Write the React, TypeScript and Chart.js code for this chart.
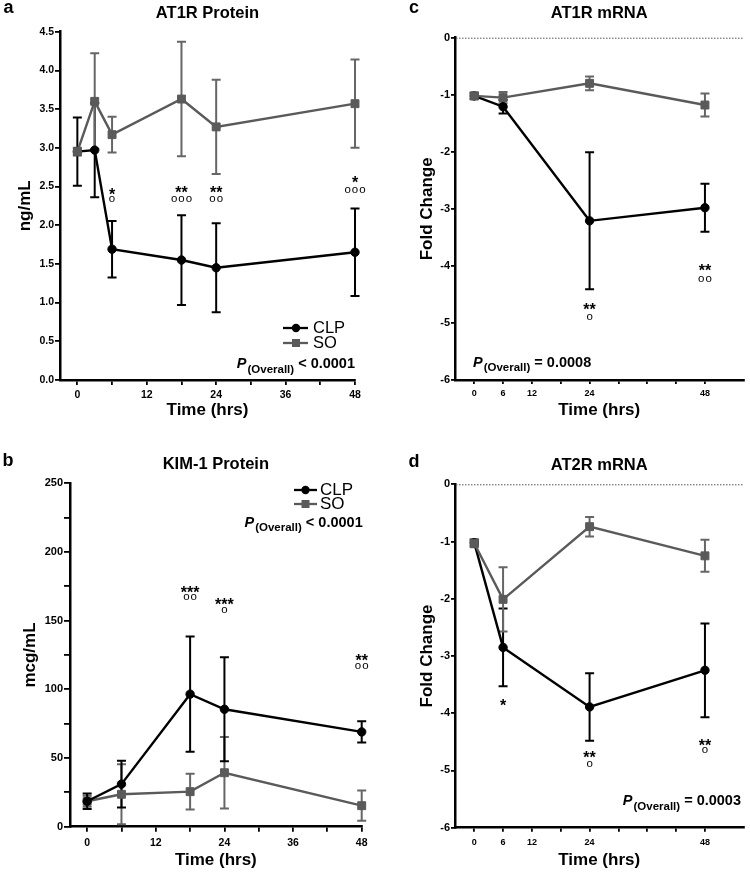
import React, { useEffect, useRef } from "react";
import { Chart, registerables } from "chart.js";

Chart.register(...registerables);

const FONT = '"Liberation Sans", Arial, Helvetica, sans-serif';
const CLP_COLOR = "#000000";
const SO_COLOR = "#5a5a5a";
const SO_ERR_COLOR = "#666666";

// ---------- Panel a: AT1R Protein (ng/mL) ----------
const hoursA = [0, 3, 6, 18, 24, 48];
const clpA = [2.95, 2.97, 1.69, 1.55, 1.45, 1.65];
const clpErrA = [0.44, 0.61, 0.365, 0.58, 0.575, 0.565];
const soA = [2.95, 3.6, 3.17, 3.63, 3.27, 3.57];
const soErrA = [0.05, 0.62, 0.23, 0.74, 0.61, 0.57];

// ---------- Panel b: KIM-1 Protein (mcg/mL) ----------
const hoursB = [0, 6, 18, 24, 48];
const clpB = [18.5, 31, 96.5, 85.5, 69];
const clpErrB = [5.7, 17, 42, 37.8, 7.7];
const soB = [18.5, 23.6, 25.5, 39.3, 15.3];
const soErrB = [4, 21.8, 13, 26, 11];

// ---------- Panel c: AT1R mRNA (fold change) ----------
const hoursC = [0, 6, 24, 48];
const clpC = [-1.02, -1.21, -3.21, -2.98];
const clpErrC = [0.05, 0.12, 1.2, 0.42];
const soC = [-1.02, -1.05, -0.8, -1.18];
const soErrC = [0.06, 0.1, 0.12, 0.2];

// ---------- Panel d: AT2R mRNA (fold change) ----------
const hoursD = [0, 6, 24, 48];
const clpD = [-1.02, -2.85, -3.89, -3.25];
const clpErrD = [0.05, 0.68, 0.59, 0.82];
const soD = [-1.03, -2.01, -0.74, -1.25];
const soErrD = [0.07, 0.56, 0.17, 0.28];

// ---------- Ticks ----------
const timeTicks = [0, 6, 12, 18, 24, 30, 36, 42, 48];
const timeLabelsAB = [0, 12, 24, 36, 48];
const timeLabelsCD = [0, 6, 12, 24, 48];
const yTicksA = [0, 0.5, 1, 1.5, 2, 2.5, 3, 3.5, 4, 4.5];
const yTicksB = [0, 25, 50, 75, 100, 125, 150, 175, 200, 225, 250];
const yLabelsB = [0, 50, 100, 150, 200, 250];
const yTicksCD = [-6, -5, -4, -3, -2, -1, 0];

// ---------- Significance annotations ----------
const annXA = [6, 18, 24, 48];
const starsA = ["*", "**", "**", "*"];
const starYA = [2.44, 2.46, 2.46, 2.59];
const circlesA = ["o", "ooo", "oo", "ooo"];
const circleYA = [2.34, 2.34, 2.34, 2.45];

const annXB = [18, 24, 48];
const starsB = ["***", "***", "**"];
const starYB = [172.5, 163.8, 123.3];
const circlesB = ["oo", "o", "oo"];
const circleYB = [167.4, 157.5, 116.8];

const annXC = [24, 48];
const starsC = ["**", "**"];
const starYC = [-4.71, -4.02];
const circlesC = ["o", "oo"];
const circleYC = [-4.89, -4.23];

const annXD = [6, 24, 48];
const starsD = ["*", "**", "**"];
const starYD = [-3.82, -4.72, -4.52];
const circlesD = ["", "o", "o"];
const circleYD = [-3.82, -4.88, -4.64];

const pValues = ["< 0.0001", "< 0.0001", "= 0.0008", "= 0.0003"];

type Series = { x: number[]; y: number[]; err: number[] };

type PanelCfg = {
  left: number; top: number; width: number; height: number;
  padTop: number; padRight: number; yWidth: number; xHeight: number;
  xMin: number; xMax: number; xLabels: number[]; xFont: number; xPad: number; xTl: number;
  yMin: number; yMax: number; yTicks: number[]; yFmt: (v: number) => string; yFont: number; yTl: number;
  clp: Series; so: Series; clpOnTop: boolean;
  title: string; titleY: number; letter: string; letterX: number; letterY: number;
  yTitle: string; yTitleX: number; xTitleY: number;
  legend?: { x1: number; x2: number; mx: number; textX: number; y1: number; y2: number; size: number };
  pText: string; pAlign: "left" | "right"; pX: number; pY: number;
  ann: { x: number[]; stars: string[]; starY: number[]; circles: string[]; circleY: number[] };
  zeroLine: boolean;
};

const panels: PanelCfg[] = [
  {
    left: 0, top: 0, width: 375, height: 430,
    padTop: 31.7, padRight: 20, yWidth: 60, xHeight: 50,
    xMin: -3, xMax: 48, xLabels: timeLabelsAB, xFont: 10.5, xPad: 4, xTl: 5,
    yMin: 0, yMax: 4.5, yTicks: yTicksA, yFmt: (v) => v.toFixed(1), yFont: 10.5, yTl: 5,
    clp: { x: hoursA, y: clpA, err: clpErrA }, so: { x: hoursA, y: soA, err: soErrA }, clpOnTop: false,
    title: "AT1R Protein", titleY: 12, letter: "a", letterX: 8.5, letterY: 8,
    yTitle: "ng/mL", yTitleX: 25, xTitleY: 410,
    legend: { x1: 283, x2: 308, mx: 296, textX: 313, y1: 328, y2: 343, size: 16.5 },
    pText: pValues[0], pAlign: "right", pX: 355, pY: 368,
    ann: { x: annXA, stars: starsA, starY: starYA, circles: circlesA, circleY: circleYA },
    zeroLine: false,
  },
  {
    left: 0, top: 430, width: 375, height: 443,
    padTop: 53.3, padRight: 13.3, yWidth: 70, xHeight: 46.3,
    xMin: -3, xMax: 48, xLabels: timeLabelsAB, xFont: 10.5, xPad: 5, xTl: 5,
    yMin: 0, yMax: 250, yTicks: yTicksB, yFmt: (v) => (yLabelsB.includes(v) ? String(v) : ""), yFont: 11, yTl: 6,
    clp: { x: hoursB, y: clpB, err: clpErrB }, so: { x: hoursB, y: soB, err: soErrB }, clpOnTop: true,
    title: "KIM-1 Protein", titleY: 33, letter: "b", letterX: 8, letterY: 29,
    yTitle: "mcg/mL", yTitleX: 30, xTitleY: 430,
    legend: { x1: 294, x2: 317, mx: 305.5, textX: 320, y1: 60, y2: 74, size: 17 },
    pText: pValues[1], pAlign: "right", pX: 362.7, pY: 96.7,
    ann: { x: annXB, stars: starsB, starY: starYB, circles: circlesB, circleY: circleYB },
    zeroLine: false,
  },
  {
    left: 375, top: 0, width: 375, height: 430,
    padTop: 37.7, padRight: 4, yWidth: 80, xHeight: 50,
    xMin: -4, xMax: 56, xLabels: timeLabelsCD, xFont: 9, xPad: 4, xTl: 4,
    yMin: -6, yMax: 0, yTicks: yTicksCD, yFmt: (v) => String(v), yFont: 11, yTl: 4,
    clp: { x: hoursC, y: clpC, err: clpErrC }, so: { x: hoursC, y: soC, err: soErrC }, clpOnTop: false,
    title: "AT1R mRNA", titleY: 12, letter: "c", letterX: 39, letterY: 8,
    yTitle: "Fold Change", yTitleX: 52, xTitleY: 410,
    pText: pValues[2], pAlign: "left", pX: 98, pY: 366.7,
    ann: { x: annXC, stars: starsC, starY: starYC, circles: circlesC, circleY: circleYC },
    zeroLine: true,
  },
  {
    left: 375, top: 430, width: 375, height: 443,
    padTop: 54.3, padRight: 4, yWidth: 80, xHeight: 45.3,
    xMin: -4, xMax: 56, xLabels: timeLabelsCD, xFont: 9, xPad: 5, xTl: 4,
    yMin: -6, yMax: 0, yTicks: yTicksCD, yFmt: (v) => String(v), yFont: 11, yTl: 4,
    clp: { x: hoursD, y: clpD, err: clpErrD }, so: { x: hoursD, y: soD, err: soErrD }, clpOnTop: false,
    title: "AT2R mRNA", titleY: 33.5, letter: "d", letterX: 39, letterY: 30,
    yTitle: "Fold Change", yTitleX: 52, xTitleY: 430,
    pText: pValues[3], pAlign: "right", pX: 366, pY: 375,
    ann: { x: annXD, stars: starsD, starY: starYD, circles: circlesD, circleY: circleYD },
    zeroLine: true,
  },
];

function centeredText(ctx: CanvasRenderingContext2D, text: string, x: number, cy: number) {
  const m = ctx.measureText(text);
  ctx.fillText(text, x, cy + (m.actualBoundingBoxAscent - m.actualBoundingBoxDescent) / 2);
}

function makePlugins(p: PanelCfg) {
  const errorBars = {
    id: "errorBars",
    beforeDatasetsDraw(chart: any) {
      const ctx: CanvasRenderingContext2D = chart.ctx;
      const xs = chart.scales.x;
      const ys = chart.scales.y;
      const list = p.clpOnTop
        ? [{ s: p.so, c: SO_ERR_COLOR }, { s: p.clp, c: CLP_COLOR }]
        : [{ s: p.clp, c: CLP_COLOR }, { s: p.so, c: SO_ERR_COLOR }];
      ctx.save();
      ctx.lineWidth = 2;
      list.forEach(({ s, c }) => {
        ctx.strokeStyle = c;
        s.x.forEach((xv, i) => {
          const px = xs.getPixelForValue(xv);
          const t = ys.getPixelForValue(s.y[i] + s.err[i]);
          const b = ys.getPixelForValue(s.y[i] - s.err[i]);
          ctx.beginPath();
          ctx.moveTo(px, t);
          ctx.lineTo(px, b);
          ctx.moveTo(px - 4.5, t);
          ctx.lineTo(px + 4.5, t);
          ctx.moveTo(px - 4.5, b);
          ctx.lineTo(px + 4.5, b);
          ctx.stroke();
        });
      });
      ctx.restore();
    },
  };

  const texts = {
    id: "panelTexts",
    afterDraw(chart: any) {
      const ctx: CanvasRenderingContext2D = chart.ctx;
      const xs = chart.scales.x;
      const ys = chart.scales.y;
      const area = chart.chartArea;
      const cx = (area.left + area.right) / 2;
      const cy = (area.top + area.bottom) / 2;
      ctx.save();
      ctx.fillStyle = "#000";
      ctx.textAlign = "center";
      ctx.textBaseline = "alphabetic";

      // zero reference line
      if (p.zeroLine) {
        const y0 = ys.getPixelForValue(0);
        ctx.save();
        ctx.strokeStyle = "#555";
        ctx.lineWidth = 1;
        ctx.setLineDash([1.5, 1.5]);
        ctx.beginPath();
        ctx.moveTo(area.left + 1, y0 + 0.5);
        ctx.lineTo(area.right, y0 + 0.5);
        ctx.stroke();
        ctx.restore();
      }

      // panel letter
      ctx.font = `bold 18px ${FONT}`;
      centeredText(ctx, p.letter, p.letterX, p.letterY);
      // title
      ctx.font = `bold 16.5px ${FONT}`;
      centeredText(ctx, p.title, cx, p.titleY);
      // x title
      ctx.font = `bold 17px ${FONT}`;
      ctx.textBaseline = "middle";
      ctx.fillText("Time (hrs)", cx, p.xTitleY);
      // y title
      ctx.save();
      ctx.translate(p.yTitleX, cy);
      ctx.rotate(-Math.PI / 2);
      ctx.fillText(p.yTitle, 0, 0);
      ctx.restore();
      ctx.textBaseline = "alphabetic";

      // legend
      if (p.legend) {
        const L = p.legend;
        const entries = [
          { y: L.y1, color: CLP_COLOR, label: "CLP", rect: false },
          { y: L.y2, color: SO_COLOR, label: "SO", rect: true },
        ];
        entries.forEach((e) => {
          ctx.strokeStyle = e.color;
          ctx.fillStyle = e.color;
          ctx.lineWidth = 2.3;
          ctx.beginPath();
          ctx.moveTo(L.x1, e.y);
          ctx.lineTo(L.x2, e.y);
          ctx.stroke();
          ctx.beginPath();
          if (e.rect) ctx.rect(L.mx - 4, e.y - 4, 8, 8);
          else ctx.arc(L.mx, e.y, 4.2, 0, Math.PI * 2);
          ctx.fill();
          ctx.fillStyle = "#000";
          ctx.font = `${L.size}px ${FONT}`;
          ctx.textAlign = "left";
          ctx.textBaseline = "middle";
          ctx.fillText(e.label, L.textX, e.y + 0.5);
        });
        ctx.textBaseline = "alphabetic";
      }

      // P(Overall) text
      {
        const ital = `italic bold 14.5px ${FONT}`;
        const sub = `bold 11.5px ${FONT}`;
        const big = `bold 14.5px ${FONT}`;
        const rest = " " + p.pText;
        ctx.font = ital;
        const wP = ctx.measureText("P").width;
        ctx.font = sub;
        const wS = ctx.measureText("(Overall)").width;
        ctx.font = big;
        const wV = ctx.measureText(rest).width;
        const total = wP + wS + wV + 1;
        let sx = p.pAlign === "right" ? p.pX - total : p.pX;
        ctx.fillStyle = "#000";
        ctx.textAlign = "left";
        ctx.textBaseline = "alphabetic";
        ctx.font = ital;
        ctx.fillText("P", sx, p.pY);
        sx += wP + 1;
        ctx.font = sub;
        ctx.fillText("(Overall)", sx, p.pY + 4.5);
        sx += wS;
        ctx.font = big;
        ctx.fillText(rest, sx, p.pY);
      }

      // significance annotations
      ctx.textAlign = "center";
      ctx.fillStyle = "#000";
      p.ann.x.forEach((xv, i) => {
        const px = xs.getPixelForValue(xv);
        if (p.ann.stars[i]) {
          ctx.font = `bold 16px ${FONT}`;
          centeredText(ctx, p.ann.stars[i], px, ys.getPixelForValue(p.ann.starY[i]));
        }
        if (p.ann.circles[i]) {
          ctx.font = `11.5px ${FONT}`;
          (ctx as any).letterSpacing = "1px";
          centeredText(ctx, p.ann.circles[i], px + 0.5, ys.getPixelForValue(p.ann.circleY[i]));
          (ctx as any).letterSpacing = "0px";
        }
      });
      ctx.restore();
    },
  };
  return [errorBars, texts];
}

function buildConfig(p: PanelCfg): any {
  const toPts = (s: Series) => s.x.map((x, i) => ({ x, y: s.y[i] }));
  return {
    type: "line",
    data: {
      datasets: [
        {
          label: "CLP",
          data: toPts(p.clp),
          borderColor: CLP_COLOR,
          backgroundColor: CLP_COLOR,
          pointBackgroundColor: CLP_COLOR,
          pointBorderColor: CLP_COLOR,
          pointStyle: "circle",
          pointRadius: 4.2,
          pointBorderWidth: 1,
          borderWidth: 2.4,
          tension: 0,
          clip: false,
          order: p.clpOnTop ? 0 : 1,
        },
        {
          label: "SO",
          data: toPts(p.so),
          borderColor: SO_COLOR,
          backgroundColor: SO_COLOR,
          pointBackgroundColor: SO_COLOR,
          pointBorderColor: SO_COLOR,
          pointStyle: "rect",
          pointRadius: 5.6,
          pointBorderWidth: 1,
          borderWidth: 2.4,
          tension: 0,
          clip: false,
          order: p.clpOnTop ? 1 : 0,
        },
      ],
    },
    options: {
      responsive: false,
      animation: false,
      events: [],
      layout: { padding: { left: 0, right: p.padRight, top: p.padTop, bottom: 0 } },
      plugins: { legend: { display: false }, title: { display: false }, tooltip: { enabled: false } },
      scales: {
        x: {
          type: "linear",
          min: p.xMin,
          max: p.xMax,
          afterBuildTicks: (s: any) => {
            s.ticks = timeTicks.map((v) => ({ value: v }));
          },
          afterFit: (s: any) => {
            s.height = p.xHeight;
          },
          ticks: {
            autoSkip: false,
            maxRotation: 0,
            minRotation: 0,
            padding: p.xPad,
            color: "#000",
            font: { family: FONT, weight: "bold", size: p.xFont },
            callback: (v: number) => (p.xLabels.includes(v) ? String(v) : ""),
          },
          grid: { drawOnChartArea: false, drawTicks: true, tickLength: p.xTl, color: "#000", lineWidth: 1.8 },
          border: { display: true, color: "#000", width: 2.5 },
        },
        y: {
          type: "linear",
          min: p.yMin,
          max: p.yMax,
          afterBuildTicks: (s: any) => {
            s.ticks = p.yTicks.map((v) => ({ value: v }));
          },
          afterFit: (s: any) => {
            s.width = p.yWidth;
          },
          ticks: {
            autoSkip: false,
            padding: 1,
            color: "#000",
            font: { family: FONT, weight: "bold", size: p.yFont },
            callback: (v: number) => p.yFmt(v),
          },
          grid: { drawOnChartArea: false, drawTicks: true, tickLength: p.yTl, color: "#000", lineWidth: 1.8 },
          border: { display: true, color: "#000", width: 2.5 },
        },
      },
    },
    plugins: makePlugins(p),
  };
}

function Panel({ cfg }: { cfg: PanelCfg }) {
  const ref = useRef<HTMLCanvasElement | null>(null);
  useEffect(() => {
    if (!ref.current) return;
    const chart = new Chart(ref.current, buildConfig(cfg));
    return () => chart.destroy();
  }, [cfg]);
  return (
    <div style={{ position: "absolute", left: cfg.left, top: cfg.top, width: cfg.width, height: cfg.height }}>
      <canvas
        ref={ref}
        width={cfg.width}
        height={cfg.height}
        style={{ width: cfg.width, height: cfg.height, display: "block" }}
      />
    </div>
  );
}

export default function App() {
  return (
    <div style={{ position: "absolute", left: 0, top: 0, width: 750, height: 873, background: "#fff" }}>
      {panels.map((cfg, i) => (
        <Panel key={i} cfg={cfg} />
      ))}
    </div>
  );
}
